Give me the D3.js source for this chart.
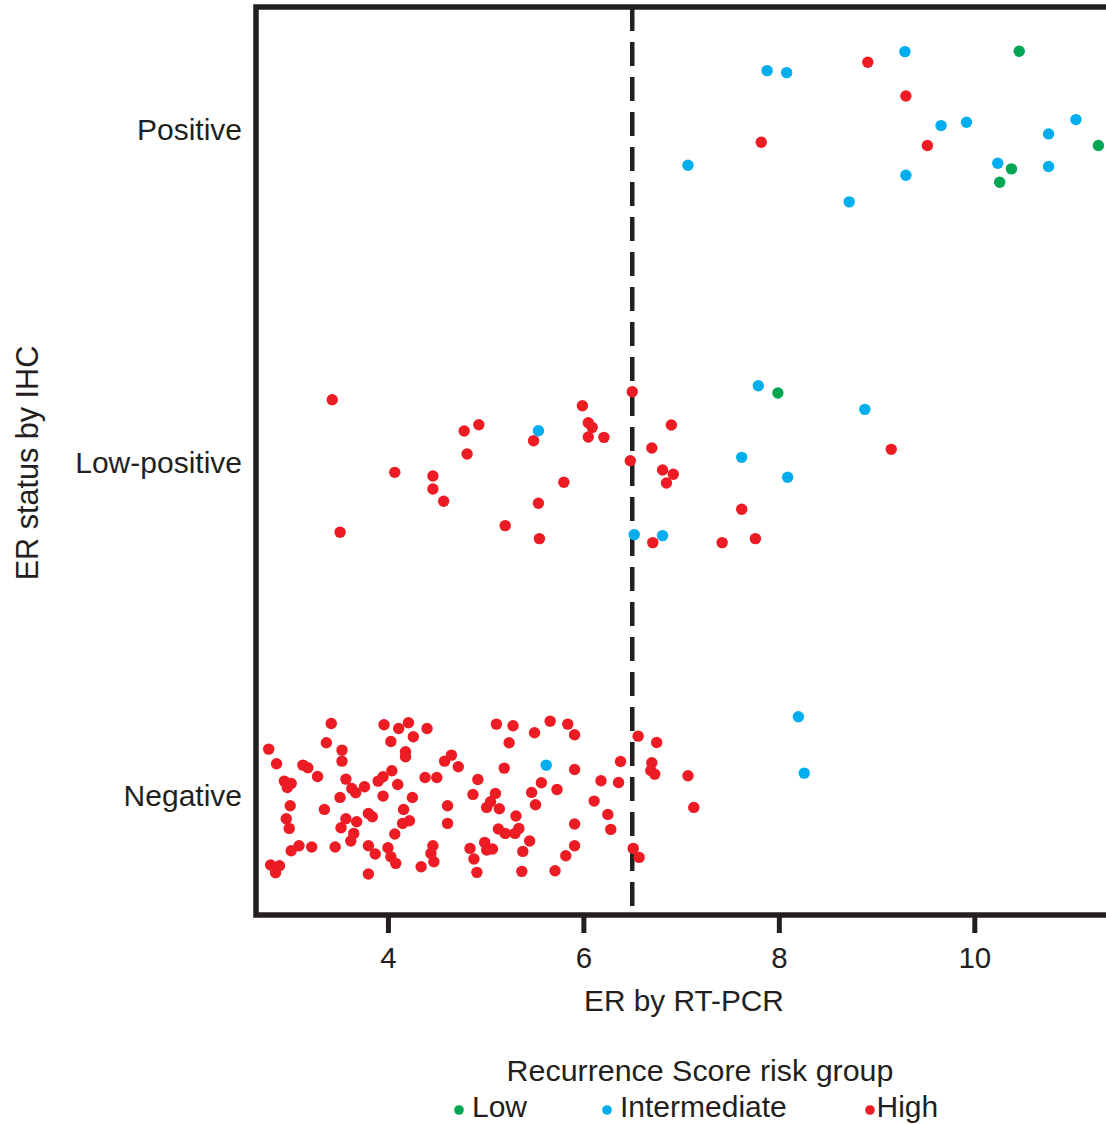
<!DOCTYPE html>
<html>
<head>
<meta charset="utf-8">
<script src="https://cdn.jsdelivr.net/npm/d3@7"></script>
<style>
  html, body { margin: 0; padding: 0; background: #fff; }
  svg { display: block; font-family: "Liberation Sans", Arial, sans-serif; }
</style>
</head>
<body>
<svg id="chart" width="1106" height="1124"></svg>
<script>
// ER status by IHC (y categories) versus ER expression by RT-PCR (x),
// coloured by Recurrence Score risk group. Each point: [ER by RT-PCR, vertical jitter].
const ihcCategories = ["Negative", "Low-positive", "Positive"];
const riskGroups = ["Low", "Intermediate", "High"];
const xTicks = [4, 6, 8, 10];
const erCutoff = 6.5;

const positiveLow = [[10.46, 0.236], [11.27, -0.047], [10.38, -0.117], [10.26, -0.157]];
const positiveIntermediate = [
  [9.29, 0.235], [7.88, 0.178], [8.08, 0.172], [9.66, 0.013], [9.92, 0.023], [11.04, 0.031],
  [10.76, -0.012], [7.07, -0.106], [10.24, -0.100], [10.76, -0.110], [9.30, -0.136], [8.72, -0.216]
];
const positiveHigh = [[8.91, 0.203], [9.30, 0.102], [7.82, -0.037], [9.52, -0.047]];

const lowPositiveLow = [[7.99, 0.210]];
const lowPositiveIntermediate = [
  [7.79, 0.232], [8.88, 0.161], [5.54, 0.097], [7.62, 0.017], [8.09, -0.043], [6.52, -0.215], [6.81, -0.218]
];
const lowPositiveHigh = [
  [6.50, 0.214], [5.99, 0.172], [5.49, 0.067], [6.05, 0.121], [6.09, 0.107], [6.05, 0.078],
  [6.21, 0.077], [6.90, 0.114], [6.70, 0.045], [9.15, 0.041], [6.48, 0.007], [6.81, -0.021],
  [6.92, -0.034], [6.85, -0.060], [5.80, -0.058], [5.54, -0.121], [7.62, -0.139], [5.55, -0.227],
  [6.71, -0.239], [7.42, -0.239], [7.76, -0.227], [3.43, 0.190], [4.93, 0.115], [4.78, 0.096],
  [4.81, 0.027], [4.07, -0.028], [4.46, -0.039], [4.46, -0.078], [4.57, -0.115], [5.20, -0.188],
  [3.51, -0.208]
];

const negativeLow = [];
const negativeIntermediate = [[8.20, 0.238], [8.26, 0.069], [5.62, 0.093]];
const negativeHigh = [
  [3.42, 0.218], [3.96, 0.214], [4.11, 0.203], [4.21, 0.220], [4.40, 0.203], [4.03, 0.164],
  [4.26, 0.178], [3.37, 0.160], [2.78, 0.141], [3.53, 0.138], [4.18, 0.133], [4.18, 0.118],
  [3.53, 0.105], [2.86, 0.097], [3.13, 0.093], [3.18, 0.085], [4.58, 0.105], [4.65, 0.123],
  [4.72, 0.088], [3.28, 0.059], [4.04, 0.076], [2.94, 0.045], [3.01, 0.038], [2.97, 0.026],
  [3.57, 0.051], [3.95, 0.058], [3.90, 0.045], [4.10, 0.035], [4.38, 0.056], [4.50, 0.056],
  [3.63, 0.023], [3.67, 0.010], [3.76, 0.028], [3.51, -0.004], [3.95, 0.000], [4.25, -0.004],
  [3.00, -0.029], [3.35, -0.040], [4.16, -0.040], [4.61, -0.029], [3.80, -0.052], [3.84, -0.062],
  [3.57, -0.068], [2.96, -0.068], [2.99, -0.097], [3.52, -0.095], [3.68, -0.077], [4.15, -0.082],
  [4.22, -0.074], [4.61, -0.082], [3.65, -0.112], [3.62, -0.135], [4.07, -0.114], [3.09, -0.149],
  [3.01, -0.164], [3.22, -0.153], [3.46, -0.153], [3.80, -0.149], [3.87, -0.174], [4.00, -0.155],
  [4.03, -0.182], [4.08, -0.202], [4.46, -0.149], [4.44, -0.172], [4.47, -0.197], [2.80, -0.207],
  [2.89, -0.209], [2.85, -0.230], [4.34, -0.212], [3.80, -0.234],
  [5.11, 0.216], [5.28, 0.211], [5.66, 0.225], [5.84, 0.216], [5.91, 0.184], [5.50, 0.190],
  [5.24, 0.160], [6.56, 0.180], [6.75, 0.161], [5.19, 0.084], [5.91, 0.080], [6.38, 0.104],
  [6.70, 0.100], [6.69, 0.077], [6.73, 0.066], [7.07, 0.061], [4.92, 0.050], [5.57, 0.040],
  [6.18, 0.046], [6.36, 0.041], [4.87, 0.005], [5.10, 0.008], [5.47, 0.011], [5.73, 0.020],
  [5.01, -0.034], [5.05, -0.017], [5.14, -0.038], [5.51, -0.026], [6.11, -0.015], [6.25, -0.055],
  [7.13, -0.034], [5.31, -0.060], [5.13, -0.099], [5.20, -0.112], [5.30, -0.112], [5.34, -0.097],
  [5.91, -0.084], [6.28, -0.100], [4.84, -0.157], [4.99, -0.139], [5.01, -0.162], [5.07, -0.159],
  [5.45, -0.135], [5.38, -0.166], [5.91, -0.149], [5.82, -0.179], [6.51, -0.157], [6.57, -0.184],
  [4.88, -0.189], [4.91, -0.229], [5.37, -0.226], [5.71, -0.224]
];

// Group arrays by IHC category (index into ihcCategories) and risk group.
const groups = [
  { cat: 0, risk: "High", pts: negativeHigh },
  { cat: 0, risk: "Intermediate", pts: negativeIntermediate },
  { cat: 0, risk: "Low", pts: negativeLow },
  { cat: 1, risk: "High", pts: lowPositiveHigh },
  { cat: 1, risk: "Intermediate", pts: lowPositiveIntermediate },
  { cat: 1, risk: "Low", pts: lowPositiveLow },
  { cat: 2, risk: "High", pts: positiveHigh },
  { cat: 2, risk: "Intermediate", pts: positiveIntermediate },
  { cat: 2, risk: "Low", pts: positiveLow }
];
const points = groups.flatMap(g => g.pts.map(p => ({ er: p[0], pos: g.cat + p[1], risk: g.risk })));

const ink = "#231f20";
const color = d3.scaleOrdinal().domain(riskGroups).range(["#00a651", "#00aeef", "#ed1c24"]);

const svg = d3.select("#chart");
const x = d3.scaleLinear().domain([2.65, 11.45]).range([256, 1116]);
const y = d3.scaleLinear().domain([-0.357, 2.369]).range([915, 7]);
const [x0, x1] = x.range();
const [yb, yt] = y.range();

// dashed cutoff line
svg.append("line")
  .attr("x1", x(erCutoff)).attr("x2", x(erCutoff))
  .attr("y1", yt).attr("y2", yb)
  .attr("stroke", ink).attr("stroke-width", 4.5)
  .attr("stroke-dasharray", "24 11");

// points
svg.append("g").selectAll("circle")
  .data(points)
  .join("circle")
  .attr("cx", d => x(d.er))
  .attr("cy", d => y(d.pos))
  .attr("r", 5.7)
  .attr("fill", d => color(d.risk));

// panel frame
svg.append("rect")
  .attr("x", x0).attr("y", yt)
  .attr("width", x1 - x0).attr("height", yb - yt)
  .attr("fill", "none").attr("stroke", ink).attr("stroke-width", 5.5);

// x axis
const xAxis = svg.append("g")
  .attr("transform", `translate(0,${yb})`)
  .call(d3.axisBottom(x).tickValues(xTicks).tickSize(18).tickPadding(14));
xAxis.select(".domain").remove();
xAxis.selectAll(".tick line").attr("stroke", ink).attr("stroke-width", 5);
xAxis.selectAll(".tick text")
  .attr("fill", ink).attr("font-size", 29.5)
  .attr("font-family", "Liberation Sans, Arial, sans-serif");

// y axis (category labels)
const yAxis = svg.append("g")
  .attr("transform", `translate(${x0},0)`)
  .call(d3.axisLeft(y).tickValues([0, 1, 2]).tickFormat(i => ihcCategories[i]).tickSize(0).tickPadding(14));
yAxis.select(".domain").remove();
yAxis.selectAll(".tick text")
  .attr("fill", ink).attr("font-size", 30)
  .attr("font-family", "Liberation Sans, Arial, sans-serif");

// axis titles
svg.append("text")
  .attr("x", 684).attr("y", 1011)
  .attr("text-anchor", "middle").attr("font-size", 29.8).attr("fill", ink)
  .text("ER by RT-PCR");

svg.append("text")
  .attr("transform", `translate(38,463) rotate(-90)`)
  .attr("text-anchor", "middle").attr("font-size", 30.6).attr("fill", ink)
  .text("ER status by IHC");

// legend
svg.append("text")
  .attr("x", 700).attr("y", 1081)
  .attr("text-anchor", "middle").attr("font-size", 30.4).attr("fill", ink)
  .text("Recurrence Score risk group");

const legendX = { "Low": 459, "Intermediate": 607, "High": 870 };
const legend = svg.append("g").selectAll("g")
  .data(riskGroups)
  .join("g")
  .attr("transform", d => `translate(${legendX[d]},1110)`);
legend.append("circle").attr("r", 4.8).attr("fill", d => color(d));
legend.append("text")
  .attr("x", d => d === "High" ? 6.5 : 13).attr("y", 7)
  .attr("font-size", 30).attr("fill", ink)
  .text(d => d);
</script>
</body>
</html>
